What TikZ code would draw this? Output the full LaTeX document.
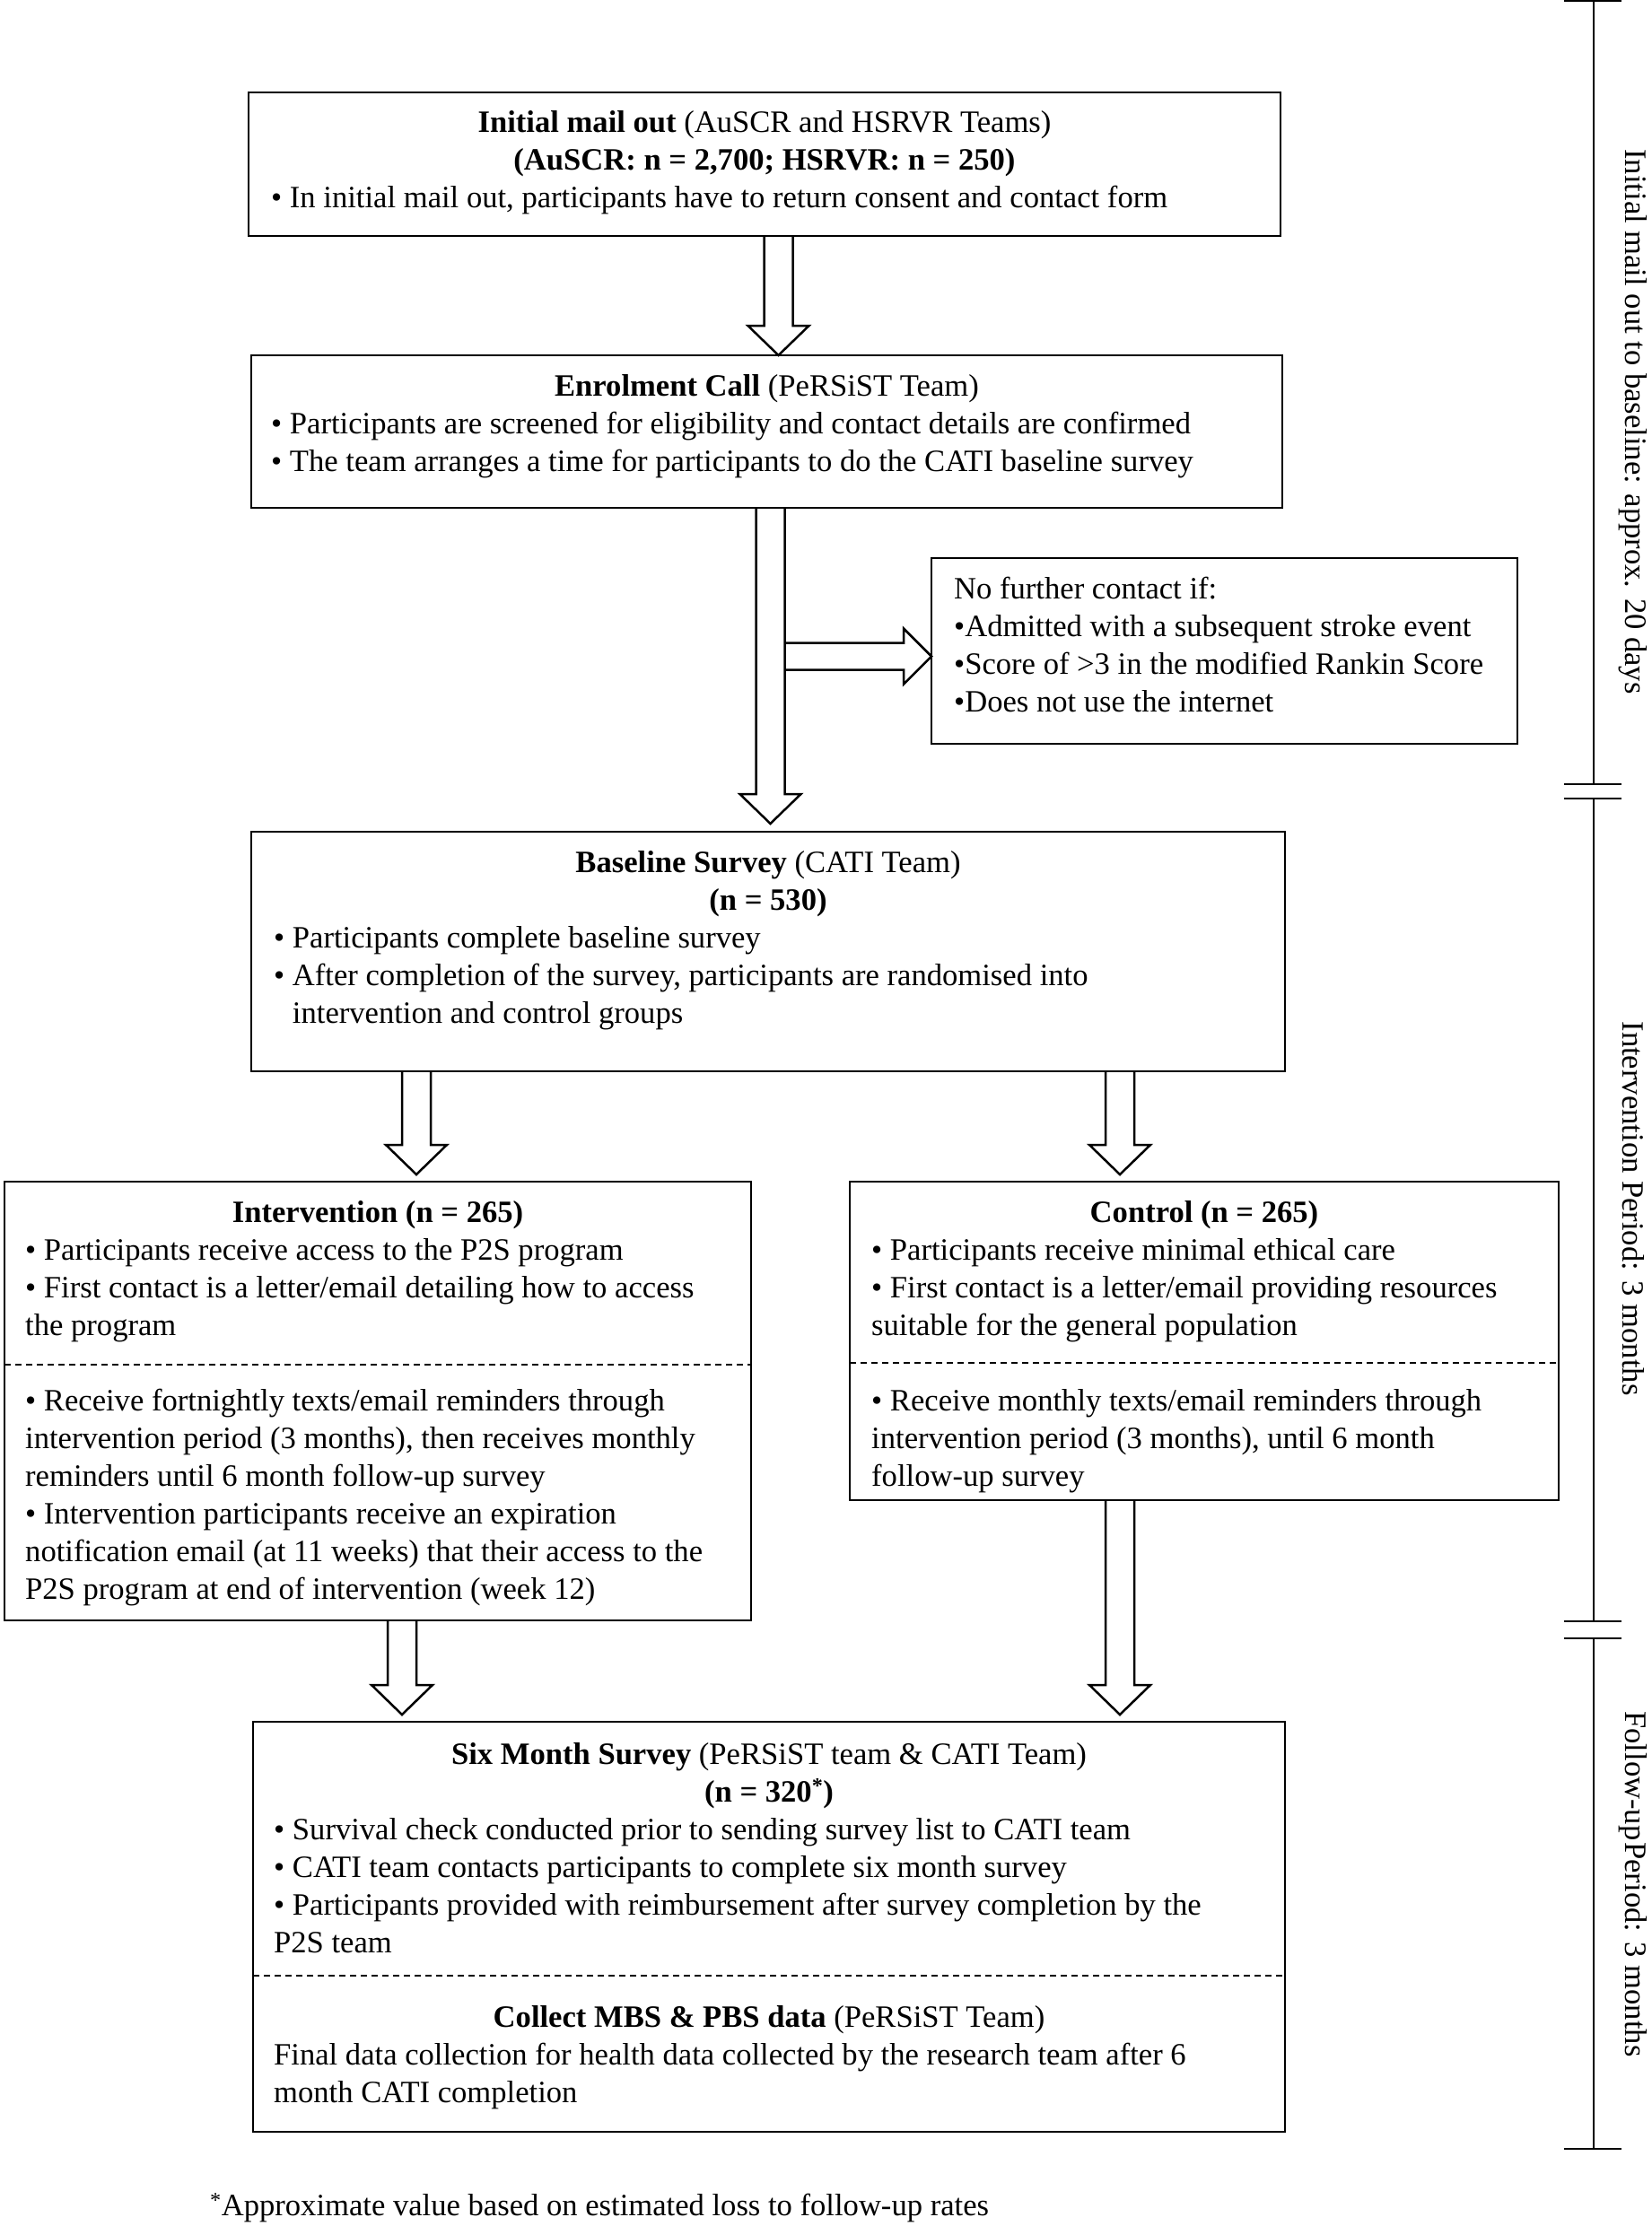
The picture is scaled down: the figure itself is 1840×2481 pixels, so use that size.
\documentclass[tikz,border=0pt]{standalone}
\usepackage{fontspec}
\setmainfont{Liberation Serif}
\usetikzlibrary{calc}
\newcommand\bodyfont{\fontsize{34.6}{42}\selectfont}
\newcommand\blockdn[2]{%
  \draw[arrline] ($(#1)+(-16,0)$) -- ($(#2)+(-16,-33)$) -- ($(#2)+(-34,-33)$) -- (#2) -- ($(#2)+(34,-33)$) -- ($(#2)+(16,-33)$) -- ($(#1)+(16,0)$);}
\newcommand\blockrt[2]{%
  \draw[arrline] ($(#1)+(0,-15)$) -- ($(#2)+(-31,-15)$) -- ($(#2)+(-31,-31)$) -- (#2) -- ($(#2)+(-31,31)$) -- ($(#2)+(-31,15)$) -- ($(#1)+(0,15)$);}
\newcommand\txtlines[4]{\foreach \t [count=\i from 0] in {#4} {\node[txt] (#1\i) at (#2,{#3+42*\i}) {\t};}}
\begin{document}
\begin{tikzpicture}[x=1pt,y=-1pt,
  box/.style={draw, line width=2.6pt, inner sep=0pt, outer sep=0pt, anchor=north west},
  txt/.style={inner sep=0pt, font=\bodyfont, anchor=base west},
  ttl/.style={inner sep=0pt, font=\bodyfont, anchor=base},
  vlab/.style={inner sep=0pt, font=\bodyfont, rotate=-90},
  arrline/.style={line width=2.5pt, line join=miter},
  sep/.style={line width=1.6pt, dash pattern=on 7pt off 5pt},
  tl/.style={line width=2pt}]
\useasboundingbox (0,0) rectangle (1840,2481);

% ---------- boxes ----------
\node[box, minimum width=1150pt, minimum height=160pt] (b1) at (277,103) {};
\node[box, minimum width=1149pt, minimum height=170pt] (b2) at (280,396) {};
\node[box, minimum width=653pt, minimum height=207pt] (nf) at (1038,622) {};
\node[box, minimum width=1152pt, minimum height=267pt] (b3) at (280,927) {};
\node[box, minimum width=832pt, minimum height=489pt] (b4) at (5,1317) {};
\node[box, minimum width=790pt, minimum height=355pt] (b5) at (947,1317) {};
\node[box, minimum width=1150pt, minimum height=457pt] (b6) at (282,1919) {};

% ---------- box 1 ----------
\node[ttl] (b1h) at (852,147) {\textbf{Initial mail out} (AuSCR and HSRVR Teams)};
\node[ttl] (b1n) at (852,189) {\textbf{(AuSCR: n = 2,700; HSRVR: n = 250)}};
\node[txt] (b1a) at (302,231) {• In initial mail out, participants have to return consent and contact form};

% ---------- box 2 ----------
\node[ttl] (b2h) at (854.5,441) {\textbf{Enrolment Call} (PeRSiST Team)};
\txtlines{b2l}{302}{483}{{• Participants are screened for eligibility and contact details are confirmed},{• The team arranges a time for participants to do the CATI baseline survey}}

% ---------- no further contact ----------
\txtlines{nfl}{1063}{667}{{No further contact if:},{•Admitted with a subsequent stroke event},{•Score of >3 in the modified Rankin Score},{•Does not use the internet}}

% ---------- baseline ----------
\node[ttl] (b3h) at (856,972) {\textbf{Baseline Survey} (CATI Team)};
\node[ttl] (b3n) at (856,1014) {\textbf{(n = 530)}};
\txtlines{b3l}{305}{1056}{{• Participants complete baseline survey},{• After completion of the survey, participants are randomised into},{\phantom{• }intervention and control groups}}

% ---------- intervention ----------
\node[ttl] (b4h) at (421,1362) {\textbf{Intervention (n = 265)}};
\txtlines{b4l}{28}{1404}{{• Participants receive access to the P2S program},{• First contact is a letter/email detailing how to access},{the program}}
\draw[sep] (b4.west |- 0,1521) -- (b4.east |- 0,1521);
\txtlines{b4m}{28}{1572}{{• Receive fortnightly texts/email reminders through},{intervention period (3 months), then receives monthly},{reminders until 6 month follow-up survey},{• Intervention participants receive an expiration},{notification email (at 11 weeks) that their access to the},{P2S program at end of intervention (week 12)}}

% ---------- control ----------
\node[ttl] (b5h) at (1342,1362) {\textbf{Control (n = 265)}};
\txtlines{b5l}{971}{1404}{{• Participants receive minimal ethical care},{• First contact is a letter/email providing resources},{suitable for the general population}}
\draw[sep] (b5.west |- 0,1519) -- (b5.east |- 0,1519);
\txtlines{b5m}{971}{1572}{{• Receive monthly texts/email reminders through},{intervention period (3 months), until 6 month},{follow-up survey}}

% ---------- six month ----------
\node[ttl] (b6h) at (857,1966) {\textbf{Six Month Survey} (PeRSiST team \& CATI Team)};
\node[ttl] (b6n) at (857,2008) {\textbf{(n = 320\textsuperscript{*})}};
\txtlines{b6l}{305}{2050}{{• Survival check conducted prior to sending survey list to CATI team},{• CATI team contacts participants to complete six month survey},{• Participants provided with reimbursement after survey completion by the},{P2S team}}
\draw[sep] (b6.west |- 0,2202) -- (b6.east |- 0,2202);
\node[ttl] (b6k) at (857,2259) {\textbf{Collect MBS \& PBS data} (PeRSiST Team)};
\txtlines{b6m}{305}{2301}{{Final data collection for health data collected by the research team after 6},{month CATI completion}}

% ---------- footnote ----------
\node[txt] (fn) at (234,2469) {\textsuperscript{*}Approximate value based on estimated loss to follow-up rates};

% ---------- block arrows ----------
\coordinate (a1s) at ($(b1.south west)+(590.5,0)$);
\coordinate (a1e) at ($(b2.north west)+(587.5,0)$);
\blockdn{a1s}{a1e}
\coordinate (a2s) at ($(b2.south west)+(578.5,0)$);
\coordinate (a2e) at ($(b3.north west)+(578.5,-9)$);
\blockdn{a2s}{a2e}
\coordinate (sds) at ($(a2s)+(16,165.5)$);
\coordinate (sde) at ($(nf.north west)+(0,109.5)$);
\blockrt{sds}{sde}
\coordinate (a3ls) at ($(b3.south west)+(184,0)$);
\coordinate (a3le) at ($(b4.north west)+(459,-8)$);
\blockdn{a3ls}{a3le}
\coordinate (a3rs) at ($(b3.south west)+(968,0)$);
\coordinate (a3re) at ($(b5.north west)+(301,-8)$);
\blockdn{a3rs}{a3re}
\coordinate (a4ls) at ($(b4.south west)+(443,0)$);
\coordinate (a4le) at ($(b6.north west)+(166,-8)$);
\blockdn{a4ls}{a4le}
\coordinate (a4rs) at ($(b5.south west)+(301,0)$);
\coordinate (a4re) at ($(b6.north west)+(966,-8)$);
\blockdn{a4rs}{a4re}

% ---------- timeline ----------
\draw[tl] (1776,1) -- (1776,874);
\draw[tl] (1776,890) -- (1776,1807);
\draw[tl] (1776,1826) -- (1776,2395);
\foreach \yy in {1,874,890,1807,1826,2395} {\draw[tl] (1743,\yy) -- (1807,\yy);}
\node[vlab] (t1) at (1820,470) {Initial mail out to baseline: approx. 20 days};
\node[vlab] (t2) at (1820,1347) {Intervention Period: 3 months};
\node[vlab] (t3) at (1820,2100) {Follow-up\hspace{0.05em}Period: 3 months};
\end{tikzpicture}
\end{document}
